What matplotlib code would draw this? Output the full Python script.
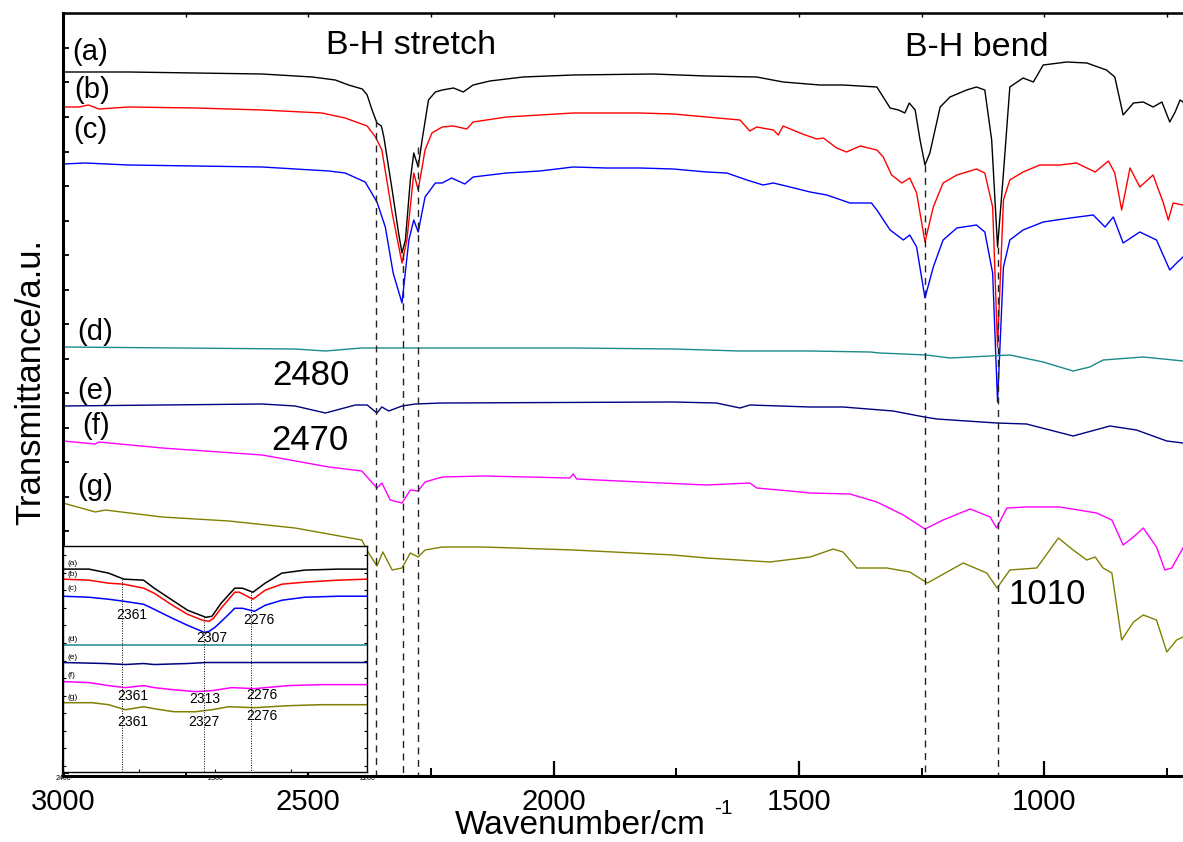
import numpy as np
import matplotlib.pyplot as plt

plt.rcParams['font.family'] = ['Liberation Sans', 'DejaVu Sans']

# ---- main spectra: wavenumber (cm-1) and offset transmittance (a.u.) ----
wn_a = [3000, 2866, 2730, 2594, 2492, 2445, 2418, 2390, 2380, 2370, 2360, 2351, 2346, 2329, 2316, 2309, 2302,
        2292, 2285, 2276, 2268, 2255, 2241, 2227, 2204, 2184, 2164, 2130, 2062, 1960, 1797, 1688, 1586, 1532,
        1457, 1410, 1341, 1314, 1297, 1284, 1275, 1263, 1253, 1243, 1233, 1212, 1192, 1158, 1138, 1121, 1107,
        1095, 1083, 1070, 1043, 1022, 1002, 954, 913, 873, 856, 839, 818, 798, 778, 760, 744, 733, 723, 717]
tr_a = [70.4, 70.4, 70.3, 70.2, 69.9, 69.6, 69.1, 68.7, 68.1, 66.6, 65.3, 65.0, 63.9, 58.6, 54.3, 52.3, 53.6,
        59.6, 62.3, 60.9, 63.6, 67.6, 68.4, 68.6, 68.8, 68.4, 69.1, 69.5, 69.9, 70.1, 70.2, 70.0, 69.9, 69.4,
        69.1, 69.1, 68.9, 66.8, 66.6, 66.3, 67.3, 66.6, 63.6, 61.1, 62.3, 66.9, 67.9, 68.6, 68.9, 68.6, 63.6,
        52.9, 60.3, 68.9, 69.8, 69.4, 71.1, 71.4, 71.3, 70.6, 69.9, 66.1, 67.3, 67.4, 66.9, 67.4, 65.4, 66.4, 67.6, 67.4]

wn_b = [3000, 2968, 2948, 2927, 2866, 2730, 2594, 2472, 2425, 2380, 2363, 2350, 2329, 2309, 2299, 2285, 2276,
        2262, 2248, 2227, 2204, 2177, 2164, 2096, 2028, 1960, 1892, 1824, 1756, 1688, 1620, 1600, 1586, 1552,
        1542, 1532, 1498, 1464, 1450, 1423, 1403, 1375, 1341, 1328, 1311, 1290, 1274, 1260, 1243, 1226, 1206,
        1178, 1138, 1121, 1105, 1095, 1083, 1070, 1043, 1009, 968, 934, 896, 869, 856, 842, 825, 805, 778, 757,
        747, 737, 717]
tr_b = [66.9, 66.9, 67.1, 66.7, 66.9, 66.8, 66.6, 66.3, 65.8, 65.0, 63.9, 62.6, 56.3, 51.3, 53.6, 60.3, 58.6,
        62.6, 64.3, 64.9, 65.0, 64.7, 65.4, 65.9, 66.1, 66.3, 66.3, 66.3, 66.2, 65.9, 65.6, 64.5, 64.9, 64.6,
        64.1, 65.0, 64.3, 63.7, 63.8, 62.8, 62.4, 63.0, 62.6, 61.9, 60.1, 59.3, 59.8, 58.3, 53.4, 56.9, 59.3,
        60.1, 60.7, 60.3, 56.9, 42.9, 57.6, 59.6, 60.4, 61.1, 61.1, 61.3, 60.4, 61.5, 60.3, 56.6, 60.8, 58.9,
        60.1, 57.3, 55.6, 57.3, 57.1]

wn_c = [3000, 2955, 2866, 2730, 2594, 2458, 2425, 2384, 2360, 2343, 2327, 2309, 2295, 2285, 2276, 2262, 2241,
        2227, 2208, 2181, 2164, 2096, 2028, 1960, 1892, 1824, 1756, 1688, 1647, 1606, 1573, 1552, 1518, 1477,
        1443, 1396, 1352, 1341, 1314, 1287, 1274, 1260, 1243, 1226, 1206, 1178, 1138, 1121, 1105, 1095, 1083,
        1070, 1043, 1002, 947, 900, 876, 859, 839, 805, 771, 744, 730, 717]
tr_c = [61.2, 61.3, 61.1, 61.0, 60.9, 60.5, 60.3, 59.4, 57.4, 54.9, 50.3, 47.3, 53.6, 55.6, 54.4, 57.9, 59.3,
        59.3, 59.8, 59.2, 59.9, 60.3, 60.5, 60.9, 60.8, 60.8, 60.7, 60.4, 60.3, 59.6, 59.1, 59.3, 58.9, 58.4,
        58.1, 57.3, 57.3, 56.6, 54.6, 53.6, 54.1, 52.9, 47.8, 50.9, 53.6, 54.8, 55.1, 54.4, 50.3, 37.4, 50.9,
        53.6, 54.6, 55.4, 55.8, 56.1, 54.9, 55.9, 53.3, 54.4, 53.6, 50.6, 51.3, 51.9]

wn_d = [3000, 2527, 2465, 2391, 2227, 1960, 1756, 1620, 1477, 1355, 1335, 1240, 1192, 1070, 1002, 941, 907,
        880, 798, 717]
tr_d = [42.9, 42.7, 42.5, 42.8, 42.8, 42.8, 42.7, 42.5, 42.5, 42.4, 42.3, 42.1, 41.8, 42.1, 41.4, 40.5, 40.9,
        41.6, 41.9, 41.5]

wn_e = [3000, 2798, 2594, 2527, 2465, 2404, 2380, 2360, 2350, 2336, 2309, 2282, 2227, 1756, 1668, 1620, 1600,
        1477, 1410, 1308, 1244, 1219, 1097, 1036, 941, 866, 812, 750, 717]
tr_e = [37.0, 37.1, 37.2, 37.0, 36.3, 37.1, 37.1, 36.3, 36.9, 36.5, 37.0, 37.2, 37.3, 37.4, 37.3, 36.8, 37.1,
        36.9, 36.9, 36.5, 35.9, 35.7, 35.3, 35.2, 34.0, 35.0, 34.6, 33.5, 33.3]

wn_f = [3000, 2934, 2927, 2798, 2594, 2458, 2391, 2360, 2350, 2333, 2309, 2292, 2276, 2262, 2227, 2143, 1967,
        1960, 1953, 1824, 1688, 1600, 1586, 1518, 1477, 1396, 1341, 1287, 1243, 1206, 1151, 1110, 1097, 1076,
        1036, 968, 893, 862, 839, 818, 798, 771, 754, 740, 717]
tr_f = [33.5, 33.2, 33.4, 32.8, 32.1, 30.9, 30.5, 28.8, 29.3, 27.6, 27.3, 28.6, 28.5, 29.4, 29.9, 30.0, 29.8,
        30.2, 29.7, 29.4, 29.1, 29.3, 28.8, 28.5, 28.3, 28.2, 27.4, 26.1, 24.7, 25.6, 26.7, 25.9, 24.8, 26.8,
        26.9, 26.9, 26.3, 25.6, 23.1, 23.9, 24.8, 22.9, 20.6, 20.8, 22.8]

wn_g = [3000, 2934, 2914, 2798, 2662, 2527, 2391, 2377, 2360, 2348, 2329, 2309, 2292, 2276, 2262, 2227, 2143,
        1960, 1756, 1688, 1559, 1477, 1430, 1410, 1382, 1321, 1274, 1238, 1165, 1117, 1096, 1070, 1015, 971,
        941, 913, 896, 880, 862, 842, 818, 798, 771, 750, 730, 717]
tr_g = [27.3, 26.4, 26.6, 25.9, 25.5, 24.8, 23.6, 22.3, 21.0, 22.4, 20.6, 20.8, 22.3, 21.9, 22.6, 22.9, 22.9,
        22.6, 22.1, 21.8, 21.4, 21.9, 22.7, 22.4, 20.8, 20.8, 20.4, 19.3, 21.3, 20.3, 18.8, 20.6, 20.8, 23.8,
        22.6, 21.6, 21.9, 20.8, 20.3, 13.6, 15.4, 16.1, 15.6, 12.4, 13.6, 13.9]

# dashed marker lines (position, top of the line)
mark_wn = [2361, 2307, 2276, 1243, 1095]
mark_top = [65.6, 52.3, 62.9, 61.1, 52.9]

labels = ['(a)', '(b)', '(c)', '(d)', '(e)', '(f)', '(g)']
label_y = [72.4, 68.6, 64.6, 44.4, 38.5, 35.0, 28.85]
label_x = [2982, 2978, 2980, 2971, 2971, 2961, 2971]
colors = ['black', 'red', 'blue', '#1a8a8a', '#000080', '#ff00ff', '#808000']

# ---- inset (2400-2200 cm-1) ----
in_wn_a = [2400, 2383, 2370, 2360, 2347, 2340, 2328, 2318, 2306, 2302, 2296, 2287, 2282, 2275, 2267, 2256,
           2241, 2219, 2200]
in_a = [20.2, 20.2, 19.8, 19.2, 19.1, 18.3, 17.1, 16.1, 15.4, 15.5, 16.8, 18.3, 18.3, 17.9, 18.8, 19.8,
        20.1, 20.2, 20.2]
in_wn_b = [2400, 2383, 2370, 2360, 2347, 2340, 2328, 2318, 2308, 2304, 2301, 2296, 2287, 2284, 2275, 2267,
           2256, 2241, 2219, 2200]
in_b = [19.2, 19.1, 18.8, 18.7, 18.3, 17.8, 16.6, 15.7, 15.1, 15.0, 15.3, 16.3, 17.9, 17.9, 17.2, 18.1,
        18.7, 18.9, 19.1, 19.2]
in_wn_c = [2400, 2383, 2370, 2360, 2347, 2340, 2328, 2318, 2307, 2304, 2300, 2293, 2287, 2282, 2274, 2267,
           2256, 2241, 2219, 2200]
in_c = [17.5, 17.4, 17.2, 17.0, 16.7, 16.2, 15.3, 14.6, 13.9, 14.0, 14.4, 15.4, 16.3, 16.3, 16.0, 16.6,
        17.1, 17.4, 17.5, 17.5]
in_wn_d = [2400, 2200]
in_d = [12.6, 12.6]
in_wn_e = [2400, 2372, 2359, 2347, 2340, 2318, 2306, 2274, 2200]
in_e = [10.9, 10.8, 10.7, 10.8, 10.7, 10.8, 10.9, 10.9, 10.9]
in_wn_f = [2400, 2383, 2370, 2359, 2347, 2340, 2328, 2313, 2302, 2289, 2274, 2252, 2230, 2200]
in_f = [9.0, 8.9, 8.6, 8.4, 8.6, 8.4, 8.2, 8.0, 8.1, 8.4, 8.3, 8.6, 8.7, 8.7]
in_wn_g = [2400, 2381, 2370, 2359, 2347, 2340, 2327, 2313, 2302, 2291, 2274, 2252, 2230, 2200]
in_g = [6.9, 6.9, 6.7, 6.2, 6.5, 6.3, 6.0, 6.0, 6.2, 6.5, 6.4, 6.6, 6.7, 6.7]

in_mark_wn = [2361, 2307, 2276]
in_mark_top = [19.2, 15.4, 17.9]
in_label_y = [20.77, 19.67, 18.27, 13.2, 11.37, 9.6, 7.43]
in_peaks = ['2361', '2307', '2276', '2361', '2313', '2276', '2361', '2327', '2276']
in_peak_x = [2355, 2302, 2271, 2354, 2307, 2269, 2354, 2307, 2269]
in_peak_y = [15.6, 13.33, 15.1, 7.6, 7.27, 7.67, 4.93, 5.0, 5.6]

main_wn = [wn_a, wn_b, wn_c, wn_d, wn_e, wn_f, wn_g]
main_tr = [tr_a, tr_b, tr_c, tr_d, tr_e, tr_f, tr_g]
ins_wn = [in_wn_a, in_wn_b, in_wn_c, in_wn_d, in_wn_e, in_wn_f, in_wn_g]
ins_tr = [in_a, in_b, in_c, in_d, in_e, in_f, in_g]

fig = plt.figure(figsize=(11.83, 8.42), dpi=100)
ax = fig.add_axes([63 / 1183, 1 - 776 / 842, 1 - 63 / 1183, (776 - 12.7) / 842])

for w, t, c in zip(main_wn, main_tr, colors):
    ax.plot(w, t, color=c, lw=1.0)

for w, top in zip(mark_wn, mark_top):
    ax.plot([w, w], [top, 0], color='#222222', lw=1.0, ls=(0, (5, 4)))

for lab, x, y in zip(labels, label_x, label_y):
    ax.text(x, y, lab, fontsize=21, ha='left', va='center')

ax.text(2291, 73.0, 'B-H stretch', fontsize=24.5, ha='center', va='center')
ax.text(1138, 72.85, 'B-H bend', fontsize=24.5, ha='center', va='center')
ax.text(2494, 40.0, '2480', fontsize=25, ha='center', va='center')
ax.text(2497, 33.5, '2470', fontsize=25, ha='center', va='center')
ax.text(993, 18.1, '1010', fontsize=25, ha='center', va='center')

ax.set_xlim(3000, 717)
ax.set_ylim(0, 76.33)
ax.set_xticks([3000, 2500, 2000, 1500, 1000])
ax.set_xticks([2750, 2250, 1750, 1250, 750], minor=True)
ax.set_yticks(np.arange(72.8, 0, -3.45))
ax.set_yticklabels([])
ax.tick_params(axis='x', which='major', direction='in', length=11, width=1.6, labelsize=21, pad=9)
ax.tick_params(axis='x', which='minor', direction='in', length=6, width=1.4)
ax.tick_params(axis='y', direction='in', length=4, width=1.3)
ax.spines['right'].set_visible(False)
ax.spines['left'].set_linewidth(2.2)
ax.spines['bottom'].set_linewidth(2.2)
ax.spines['top'].set_linewidth(1.8)

top = ax.secondary_xaxis('top')
top.set_xticks([3000, 2750, 2500, 2250, 2000, 1750, 1500, 1250, 1000, 750])
top.tick_params(direction='in', length=3, width=1, labeltop=False)

# axis titles
fig.text(580 / 1183, 1 - 834 / 842, 'Wavenumber/cm', fontsize=24, ha='center', va='baseline')
fig.text(714 / 1183, 1 - 814 / 842, '-1', fontsize=15, ha='left', va='baseline')
fig.text(0.026, 0.546, 'Transmittance/a.u.', fontsize=25, rotation=90, ha='center', va='center')

# inset
ins = fig.add_axes([63 / 1183, 1 - 772 / 842, 304 / 1183, 226 / 842])
for w, t, c in zip(ins_wn, ins_tr, colors):
    ins.plot(w, t, color=c, lw=1.1)
for w, top_v in zip(in_mark_wn, in_mark_top):
    ins.plot([w, w], [top_v, 0], color='black', lw=0.7, ls=(0, (1, 1.5)))
for lab, y in zip(labels, in_label_y):
    ins.text(2397, y, lab, fontsize=6, ha='left', va='center')
for s, x, y in zip(in_peaks, in_peak_x, in_peak_y):
    ins.text(x, y, s, fontsize=10, ha='center', va='center')
ins.set_xlim(2400, 2200)
ins.set_ylim(0, 22.5)
ins.set_xticks([2400, 2300, 2200])
ins.set_xticks([2350, 2250], minor=True)
ins.set_yticks(np.arange(21.6, 0, -1.75))
ins.set_yticklabels([])
ins.tick_params(axis='x', which='both', direction='in', length=2.5, width=0.8, labelsize=5, pad=2)
ins.tick_params(axis='y', direction='in', length=2.5, width=0.8, left=True, right=True)
for sp in ins.spines.values():
    sp.set_linewidth(1.0)

fig.savefig('out.png', dpi=100)
